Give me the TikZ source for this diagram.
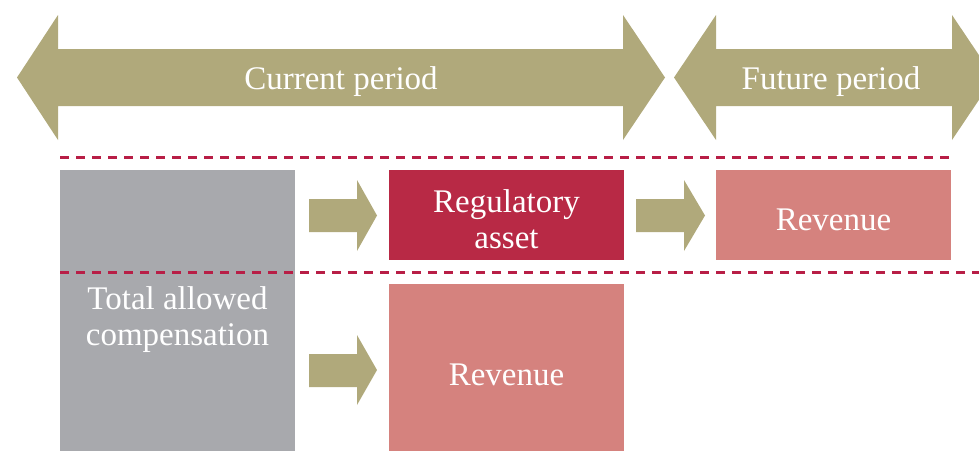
\documentclass[tikz,border=0pt]{standalone}
\usepackage{fontspec}
\setmainfont{Liberation Serif}
\definecolor{tanc}{RGB}{176,169,123}
\definecolor{grayc}{RGB}{168,169,173}
\definecolor{crimc}{RGB}{184,41,69}
\definecolor{pinkc}{RGB}{213,130,126}
\definecolor{dashc}{RGB}{184,30,70}
\tikzset{
  lbl/.style={text=white, align=center, font=\fontsize{33}{36}\selectfont},
  sep/.style={draw=dashc, line width=2.5pt, dash pattern=on 9pt off 7pt}
}
\begin{document}
\begin{tikzpicture}[x=1pt,y=-1pt]
\useasboundingbox (0,0) rectangle (979,451);
\clip (0,0) rectangle (979,451);
% big period arrows
\fill[tanc] (17,77.5) -- (58,15) -- (58,49) -- (623,49) -- (623,15) -- (665,77.5)
  -- (623,140) -- (623,106) -- (58,106) -- (58,140) -- cycle;
\node[lbl] (cur) at (341,81.5) {Current period};
\fill[tanc] (674,77.5) -- (716,15) -- (716,49) -- (952,49) -- (952,15) -- (994,77.5)
  -- (952,140) -- (952,106) -- (716,106) -- (716,140) -- cycle;
\node[lbl] (fut) at (831,81.5) {Future period};
% dashed separators
\coordinate (d1a) at (60,157.5);
\coordinate (d1b) at (952,157.5);
\coordinate (d2a) at (60,272.5);
\coordinate (d2b) at (979,272.5);
\draw[sep] (d1a) -- (d1b);
% boxes
\fill[grayc] (60,170) rectangle (295,451);
\node[lbl] (tac) at (177.5,320) {Total allowed\\compensation};
\fill[crimc] (389,170) rectangle (624,260);
\node[lbl] (reg) at (506.5,219) {Regulatory\\asset};
\fill[pinkc] (716,170) rectangle (951,260);
\node[lbl] (rev1) at (833.5,220) {Revenue};
\fill[pinkc] (389,284) rectangle (624,451);
\node[lbl] (rev2) at (506.5,375) {Revenue};
\draw[sep] (d2a) -- (d2b);
% block arrows
\fill[tanc] (309,199) -- (357,199) -- (357,180) -- (377,215.5) -- (357,251) -- (357,232) -- (309,232) -- cycle;
\fill[tanc] (636,199) -- (684,199) -- (684,180) -- (705,215.5) -- (684,251) -- (684,232) -- (636,232) -- cycle;
\fill[tanc] (309,354) -- (357,354) -- (357,335) -- (377,370) -- (357,405) -- (357,387) -- (309,387) -- cycle;
\end{tikzpicture}
\end{document}
